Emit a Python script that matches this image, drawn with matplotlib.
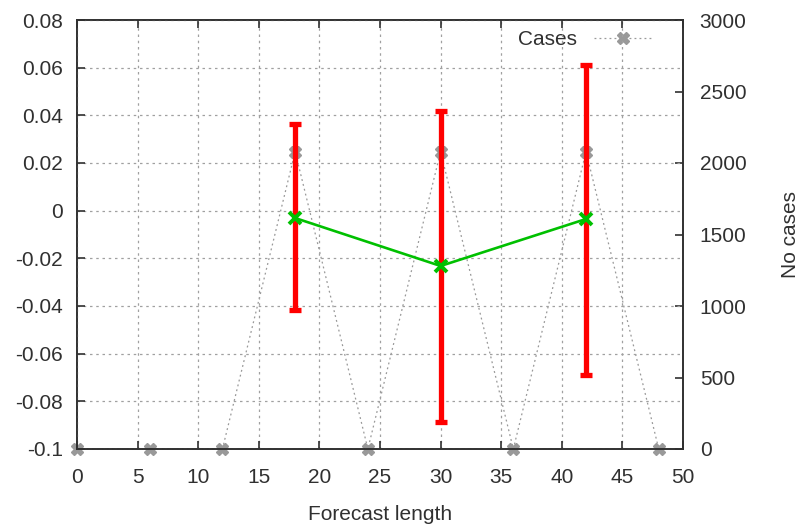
import matplotlib
matplotlib.use("Agg")
import matplotlib.pyplot as plt
from matplotlib.ticker import MultipleLocator

plt.rcParams['font.family'] = ['Liberation Sans', 'DejaVu Sans']

# Data
lead = [18, 30, 42]
mean_vals = [-0.0031, -0.0232, -0.0035]
err_top = [0.0364, 0.0418, 0.0611]
err_bot = [-0.0417, -0.0887, -0.0690]

case_x = [0, 6, 12, 18, 24, 30, 36, 42, 48]
case_n = [0, 0, 0, 2080, 0, 2080, 0, 2080, 0]

fig = plt.figure(figsize=(8.01, 5.25), dpi=100)
ax = fig.add_axes([77/801, 1-449/525, (683-77)/801, (449-20)/525])
ax2 = ax.twinx()

ax.set_xlim(0, 50)
ax.set_ylim(-0.1, 0.08)
ax2.set_ylim(0, 3000)
ax.xaxis.set_major_locator(MultipleLocator(5))
ax2.yaxis.set_major_locator(MultipleLocator(500))

ax.grid(True, color='#a0a0a0', linestyle=(0, (2, 3)), linewidth=0.9)
ax.set_axisbelow(True)

ax.set_yticks([-0.1, -0.08, -0.06, -0.04, -0.02, 0, 0.02, 0.04, 0.06, 0.08])
ax.set_yticklabels(['-0.1', '-0.08', '-0.06', '-0.04', '-0.02', '0', '0.02', '0.04', '0.06', '0.08'])

# cases on right axis
ax2.plot(case_x, case_n, color='#999999', linestyle=(0, (1.5, 2.5)), linewidth=0.9,
         marker='X', markersize=8, markeredgewidth=1.0, markeredgecolor='#999999',
         markerfacecolor='#999999',
         label='Cases', clip_on=False, zorder=2)

# error bars
lo = [m - b for m, b in zip(mean_vals, err_bot)]
hi = [t - m for m, t in zip(mean_vals, err_top)]
ax.errorbar(lead, mean_vals, yerr=[lo, hi], fmt='none', ecolor='#ff0000',
            elinewidth=3.8, capsize=4, capthick=3.8, zorder=3)
ax.plot(lead, mean_vals, color='#00c000', linewidth=1.9, marker='x',
        markersize=8, markeredgewidth=2.8, zorder=4)

ax.set_zorder(ax2.get_zorder() + 1)
ax.patch.set_visible(False)

for a in (ax, ax2):
    for s in a.spines.values():
        s.set_color('#303030')
        s.set_linewidth(1.2)

ax.tick_params(axis='both', direction='in', length=6, width=1.2, labelsize=15,
               colors='#303030', labelcolor='#303030', top=True)
ax.tick_params(axis='x', pad=14)
ax.tick_params(axis='y', right=False, pad=10)
ax2.tick_params(axis='y', direction='in', length=6, width=1.2, labelsize=15,
                colors='#303030', labelcolor='#303030', pad=12)

ax.set_xlabel('Forecast length', fontsize=15, color='#303030', labelpad=13)
ax2.set_ylabel('No cases', fontsize=15, color='#303030', labelpad=25)

leg = ax2.legend(loc='upper right', markerfirst=False, frameon=False, fontsize=15,
                 handlelength=2.8, borderaxespad=0.25, handletextpad=0.8,
                 bbox_to_anchor=(0.972, 1.008))
for t in leg.get_texts():
    t.set_color('#303030')

fig.savefig('out.png', dpi=100)
